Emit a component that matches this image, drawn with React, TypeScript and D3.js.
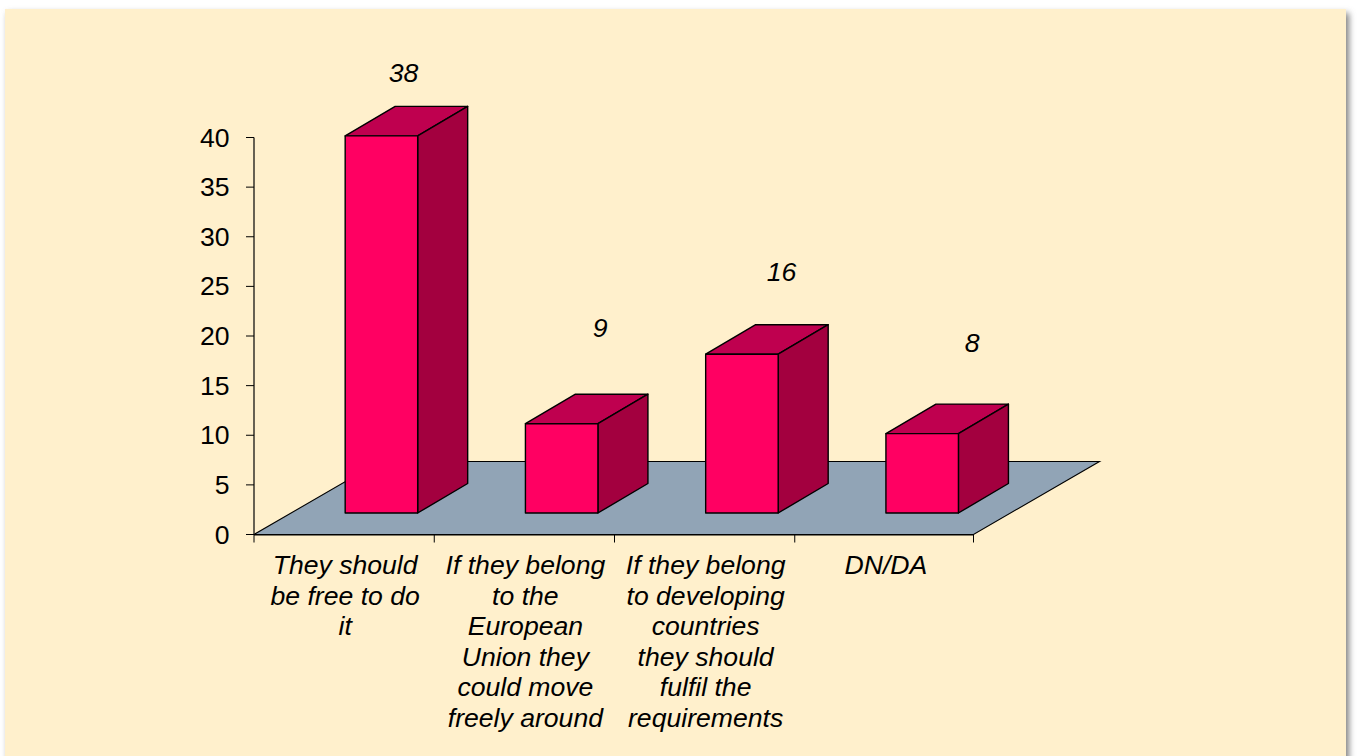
import * as d3 from "d3";
import {useEffect, useRef} from "react";

const categories = ["a", "b", "c", "d"];
const values = [38, 9, 16, 8];
const categoryLines = [
    ["They should", "be free to do", "it"],
    ["If they belong", "to the", "European", "Union they", "could move", "freely around"],
    ["If they belong", "to developing", "countries", "they should", "fulfil the", "requirements"],
    ["DN/DA"],
];
const yTicks = [0, 5, 10, 15, 20, 25, 30, 35, 40];
// the value labels were dragged by hand in the original, so each has its own offset from the bar top
const labelDx = [22, 38.5, 39.5, 50];
const labelDy = [-24.5, -57.5, -43.5, -52.5];

const WIDTH = 1357, HEIGHT = 756;
const FONT = "Liberation Sans, Arial, sans-serif";
const FONT_SIZE = 26.6;
const INK = "#000";

const App = () => {
    const ref = useRef<SVGSVGElement | null>(null);

    useEffect(() => {
        const svg = d3.select(ref.current);
        svg.selectAll("*").remove();

        const x = d3.scaleBand().domain(categories).range([254, 975]);
        const y = d3.scaleLinear().domain([0, 40]).range([534.5, 137.5]);
        const unit = y(0) - y(1);

        // depth offsets of the fake 3d
        const floorDx = 126, floorDy = -73;
        const frontDx = 37.3, frontDy = -21.5;
        const barDx = 50, barDy = -29.5;
        const barW = 72.5;

        const defs = svg.append("defs");
        const blur = defs.append("filter").attr("id", "edge")
            .attr("x", "-5%").attr("y", "-5%").attr("width", "110%").attr("height", "110%");
        blur.append("feGaussianBlur").attr("stdDeviation", 3);

        // card with shadow
        svg.append("rect").attr("x", 8).attr("y", 13).attr("width", 1341).attr("height", 780)
            .attr("fill", "#808080").attr("filter", "url(#edge)");
        svg.append("rect").attr("x", 5).attr("y", 9).attr("width", 1341).attr("height", 760)
            .attr("fill", "#fff0cc");

        const line = d3.line();
        const poly = (pts: [number, number][]) => line(pts) + "Z";

        // floor
        const x0 = x.range()[0], x1 = 973.5, y0 = y(0);
        svg.append("path")
            .attr("d", poly([[x0, y0], [x1, y0], [x1 + floorDx, y0 + floorDy], [x0 + floorDx, y0 + floorDy]]))
            .attr("fill", "#91a4b6").attr("stroke", INK).attr("stroke-width", 1.1);

        // bars
        const bars = svg.append("g").attr("stroke", INK).attr("stroke-width", 1.4).attr("stroke-linejoin", "round");
        categories.forEach((c, i) => {
            const left = x(c)! + x.bandwidth() / 2 - barW / 2 + frontDx;
            const right = left + barW;
            const bottom = y0 + frontDy;
            const top = bottom - values[i] * unit;
            bars.append("path")
                .attr("d", poly([[left, top], [right, top], [right + barDx, top + barDy], [left + barDx, top + barDy]]))
                .attr("fill", "#bf004f");
            bars.append("path")
                .attr("d", poly([[right, top], [right + barDx, top + barDy], [right + barDx, bottom + barDy], [right, bottom]]))
                .attr("fill", "#a3003f");
            bars.append("path")
                .attr("d", poly([[left, top], [right, top], [right, bottom], [left, bottom]]))
                .attr("fill", "#ff0062");
            svg.append("text")
                .attr("x", left + barW / 2 + labelDx[i])
                .attr("y", top + barDy + labelDy[i])
                .attr("text-anchor", "middle")
                .attr("font-family", FONT).attr("font-size", FONT_SIZE).attr("font-style", "italic")
                .attr("fill", INK)
                .text(values[i]);
        });

        // y axis
        const yAxis = svg.append("g");
        yAxis.append("line").attr("x1", x0).attr("x2", x0).attr("y1", y(40)).attr("y2", y(0)).attr("stroke", INK).attr("stroke-width", 1.2);
        yTicks.forEach(t => {
            yAxis.append("line").attr("x1", x0 - 8).attr("x2", x0).attr("y1", y(t)).attr("y2", y(t)).attr("stroke", INK);
            yAxis.append("text")
                .attr("x", x0 - 24.5).attr("y", y(t) + 9)
                .attr("text-anchor", "end")
                .attr("font-family", FONT).attr("font-size", FONT_SIZE).attr("fill", INK)
                .text(t);
        });

        // x axis
        const xAxis = svg.append("g");
        xAxis.append("line").attr("x1", x0).attr("x2", x1).attr("y1", y0 + 0.5).attr("y2", y0 + 0.5).attr("stroke", INK).attr("stroke-width", 1.2);
        [...categories.map(c => x(c)!), x1].forEach(t => {
            xAxis.append("line").attr("x1", t).attr("x2", t).attr("y1", y0).attr("y2", y0 + 8).attr("stroke", INK);
        });
        categories.forEach((c, i) => {
            const cx = x(c)! + x.bandwidth() / 2 + 1;
            categoryLines[i].forEach((t, j) => {
                xAxis.append("text")
                    .attr("x", cx).attr("y", 574 + j * 30.5)
                    .attr("text-anchor", "middle")
                    .attr("font-family", FONT).attr("font-size", FONT_SIZE).attr("font-style", "italic").attr("fill", INK)
                    .text(t);
            });
        });
    }, []);

    return <svg ref={ref} width={WIDTH} height={HEIGHT} style={{position: "absolute", left: 0, top: 0, background: "#fff"}} />;
};

export default App;
